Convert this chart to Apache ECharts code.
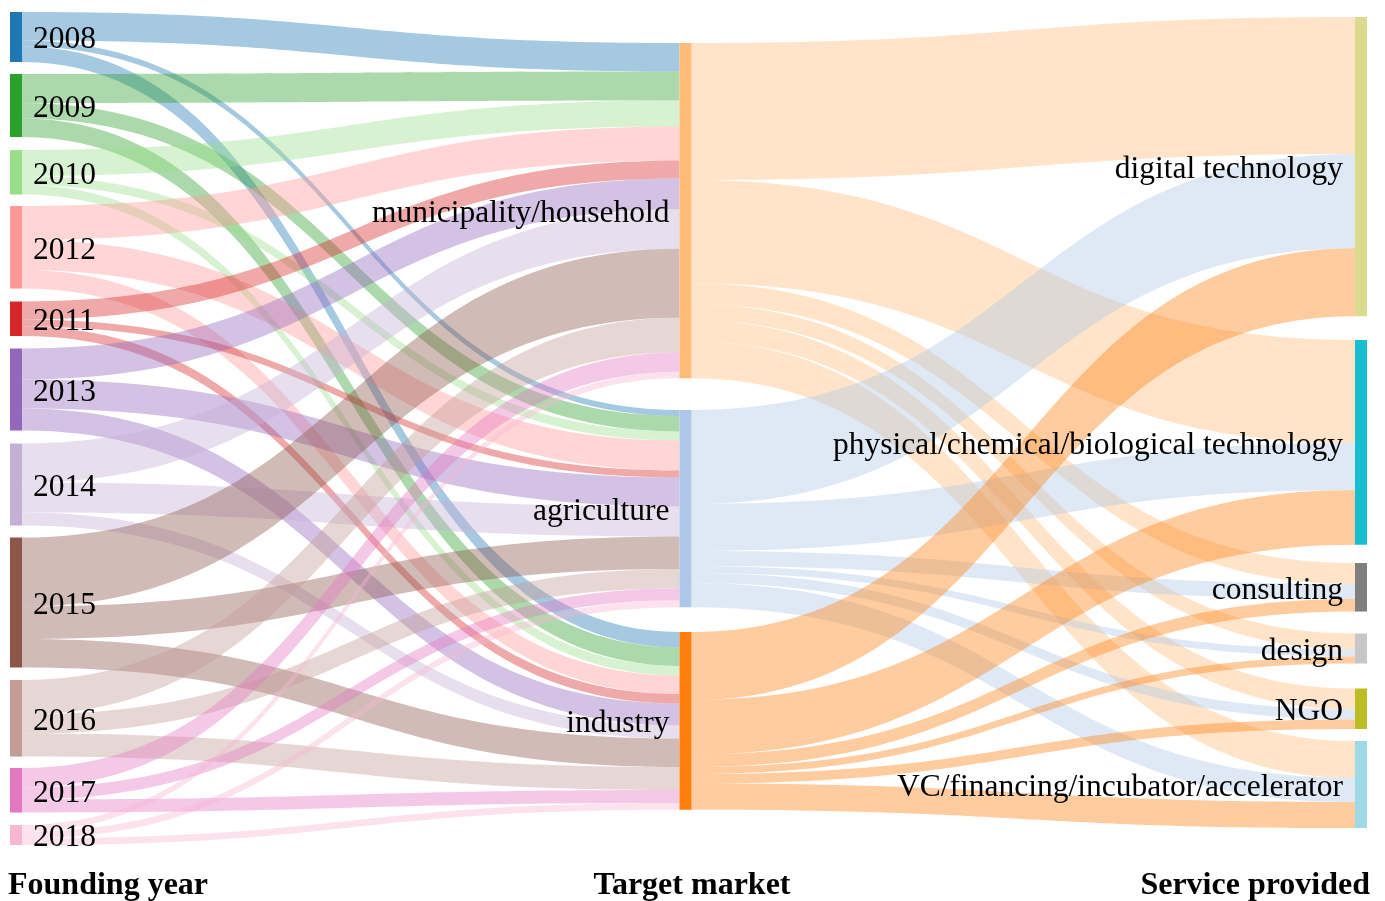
<!DOCTYPE html>
<html>
<head>
<meta charset="utf-8">
<script src="https://cdn.jsdelivr.net/npm/echarts@6/dist/echarts.min.js"></script>
<style>
html,body{margin:0;padding:0;background:#fff;}
#chart{width:1385px;height:901px;}
</style>
</head>
<body>
<div id="chart"></div>
<script>
// ---------- data ----------
const years = ['2008','2009','2010','2012','2011','2013','2014','2015','2016','2017','2018'];
const markets = ['municipality/household','agriculture','industry'];
const services = ['digital technology','physical/chemical/biological technology','consulting','design','NGO','VC/financing/incubator/accelerator'];

// flows: founding year -> target market (one value per year, in the order of `years`)
const yearToMunicipality = [28.5, 29, 26, 34, 18, 31, 39, 69, 34.5, 19.5, 6.5];
const yearToAgriculture  = [6, 15.5, 9, 30, 7, 29, 30, 32.5, 19, 12, 7];
const yearToIndustry     = [15.5, 18.5, 9.5, 18.5, 9.5, 22, 13, 28.5, 23, 13, 6.5];

// flows: target market -> service provided (one value per service, in the order of `services`)
const municipalityToService = [137, 103, 21, 16, 21, 37];
const agricultureToService  = [94, 47, 15, 7, 10, 24];
const industryToService     = [68, 54.5, 12.5, 7, 9.5, 26];

const columnTitles = ['Founding year', 'Target market', 'Service provided'];

// ---------- styles / layout ----------
const yearColors = ['#1f77b4','#2ca02c','#98df8a','#ff9896','#d62728','#9467bd','#c5b0d5','#8c564b','#c49c94','#e377c2','#f7b6d2'];
const marketColors = ['#ffbb78','#aec7e8','#ff7f0e'];
const serviceColors = ['#dbdb8d','#17becf','#7f7f7f','#c7c7c7','#bcbd22','#9edae5'];

const SERIES_LEFT = 10, SERIES_TOP = 12, SERIES_WIDTH = 1357, SERIES_HEIGHT = 830;
const yearTopsPx = [12, 74, 150, 206, 301.5, 348.5, 443.5, 537.5, 680, 768, 825];
const marketTopsPx = [43, 410, 632];
const serviceTopsPx = [17, 340, 563, 633.5, 688.5, 741];
const marketLeftPx = 679.5;
const FONT = '"Liberation Serif", "Times New Roman", Times, serif';

const yLocal = px => (px - SERIES_TOP) / SERIES_HEIGHT;

const nodes = [];
years.forEach((n, i) => nodes.push({
  name: n, itemStyle: { color: yearColors[i] }, localY: yLocal(yearTopsPx[i]),
  label: { position: 'right', distance: 11 }
}));
markets.forEach((n, i) => nodes.push({
  name: n, itemStyle: { color: marketColors[i] }, localY: yLocal(marketTopsPx[i]),
  localX: (marketLeftPx - SERIES_LEFT) / SERIES_WIDTH,
  label: { position: 'left', distance: 10 }
}));
services.forEach((n, i) => nodes.push({
  name: n, itemStyle: { color: serviceColors[i] }, localY: yLocal(serviceTopsPx[i]),
  label: { position: 'left', distance: 12 }
}));

const links = [];
const yearFlows = [yearToMunicipality, yearToAgriculture, yearToIndustry];
years.forEach((y, i) => {
  markets.forEach((m, j) => links.push({ source: y, target: m, value: yearFlows[j][i] }));
});
const marketFlows = [municipalityToService, agricultureToService, industryToService];
markets.forEach((m, j) => {
  services.forEach((s, k) => links.push({ source: m, target: s, value: marketFlows[j][k] }));
});

const chart = echarts.init(document.getElementById('chart'), null, { renderer: 'canvas' });
chart.setOption({
  backgroundColor: '#ffffff',
  animation: false,
  series: [{
    type: 'sankey',
    left: SERIES_LEFT,
    top: SERIES_TOP,
    width: SERIES_WIDTH,
    height: SERIES_HEIGHT,
    nodeWidth: 12,
    nodeGap: 12,
    layoutIterations: 0,
    draggable: false,
    emphasis: { disabled: true },
    itemStyle: { borderWidth: 0 },
    lineStyle: { color: 'source', opacity: 0.4, curveness: 0.5 },
    label: { color: '#000', fontFamily: FONT, fontSize: 31.5, offset: [0, 3] },
    data: nodes,
    links: links
  }],
  graphic: [
    { type: 'text', style: { x: 8, y: 886, text: columnTitles[0], textAlign: 'left', textVerticalAlign: 'middle', font: 'bold 32px ' + FONT, fill: '#000' } },
    { type: 'text', style: { x: 692, y: 886, text: columnTitles[1], textAlign: 'center', textVerticalAlign: 'middle', font: 'bold 32px ' + FONT, fill: '#000' } },
    { type: 'text', style: { x: 1370, y: 886, text: columnTitles[2], textAlign: 'right', textVerticalAlign: 'middle', font: 'bold 32px ' + FONT, fill: '#000' } }
  ]
});
</script>
</body>
</html>
